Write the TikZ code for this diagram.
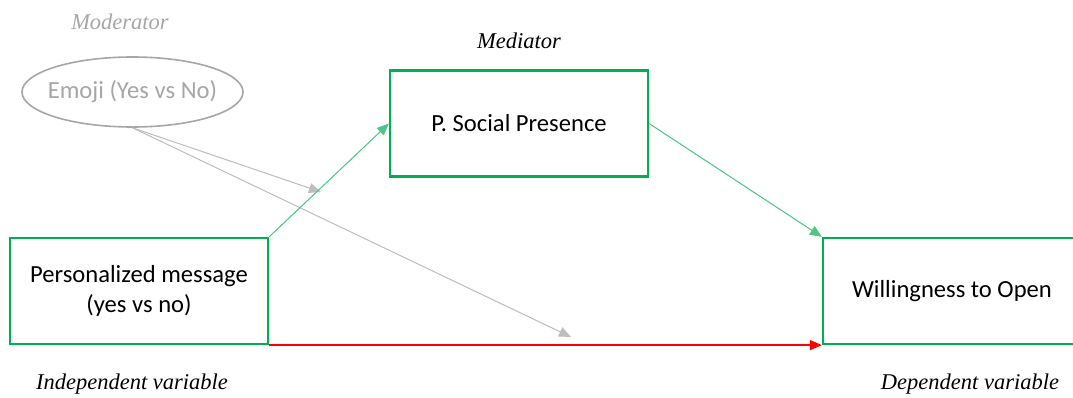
\documentclass[tikz,border=0pt]{standalone}
\usepackage{fontspec}
\setmainfont{Liberation Serif}
\newfontfamily\cajafont{Carlito}
\usetikzlibrary{positioning}
\usetikzlibrary{arrows.meta}
\usetikzlibrary{shapes.geometric}

\definecolor{verde}{RGB}{0,176,80}
\definecolor{gris}{RGB}{166,166,166}
\definecolor{grisclaro}{RGB}{190,190,190}

\begin{document}
\begin{tikzpicture}[
        x=1pt, y=-1pt,
        every node/.style={font=\fontsize{24.6}{30}\selectfont\cajafont},
        caja/.style={draw=verde, line width=2.2pt, minimum width=258pt, minimum height=106pt, align=center, inner sep=0pt},
        rol/.style={font=\fontsize{22.5}{27}\selectfont\itshape},
        flecha/.style={-{Triangle[length=12pt, width=10pt]}, line width=1pt}
    ]

        \useasboundingbox (0,0) rectangle (1073,398);
        \def\LabelY{384}

        % -------------------------------------------------
        % 1. Moderador
        % -------------------------------------------------
        \node[rol, text=gris] (tmod) at (120,22) {Moderator};
        \node[ellipse, draw=gris, line width=1.6pt, text=gris, minimum width=221pt, minimum height=70pt, inner xsep=-7pt, inner ysep=0pt] (emoji) at (132.5,92) {Emoji (Yes vs No)};

        % -------------------------------------------------
        % 2. Mediador
        % -------------------------------------------------
        \node[rol] (tmed) at (519,41) {Mediator};
        \node[caja] (social) at (519,123.5) {P. Social Presence};

        % -------------------------------------------------
        % 3. Variables independiente y dependiente
        % -------------------------------------------------
        \node[caja] (mensaje) at (139,291) {Personalized message\\(yes vs no)};
        \node[caja] (abrir) at (952,291) {Willingness to Open};

        \node[rol] (tind) at (132,\LabelY) {Independent variable};
        \node[rol] (tdep) at (970,\LabelY) {Dependent variable};

        % Flechas
        \coordinate (fin1) at (321,192);
        \coordinate (fin2) at (571,337);
        \draw[flecha, draw=grisclaro, fill=gris] (emoji.south) -- (fin1);
        \draw[flecha, draw=grisclaro, fill=gris] (emoji.south) -- (fin2);

        \draw[flecha, draw=verde!70, fill=verde] (mensaje.north east) -- (social.west);
        \draw[flecha, draw=verde!70, fill=verde] (social.east) -- (abrir.north west);
        \draw[flecha, draw=red, line width=1.4pt, fill=red] (mensaje.south east) -- (abrir.south west);

    \end{tikzpicture}
\end{document}
